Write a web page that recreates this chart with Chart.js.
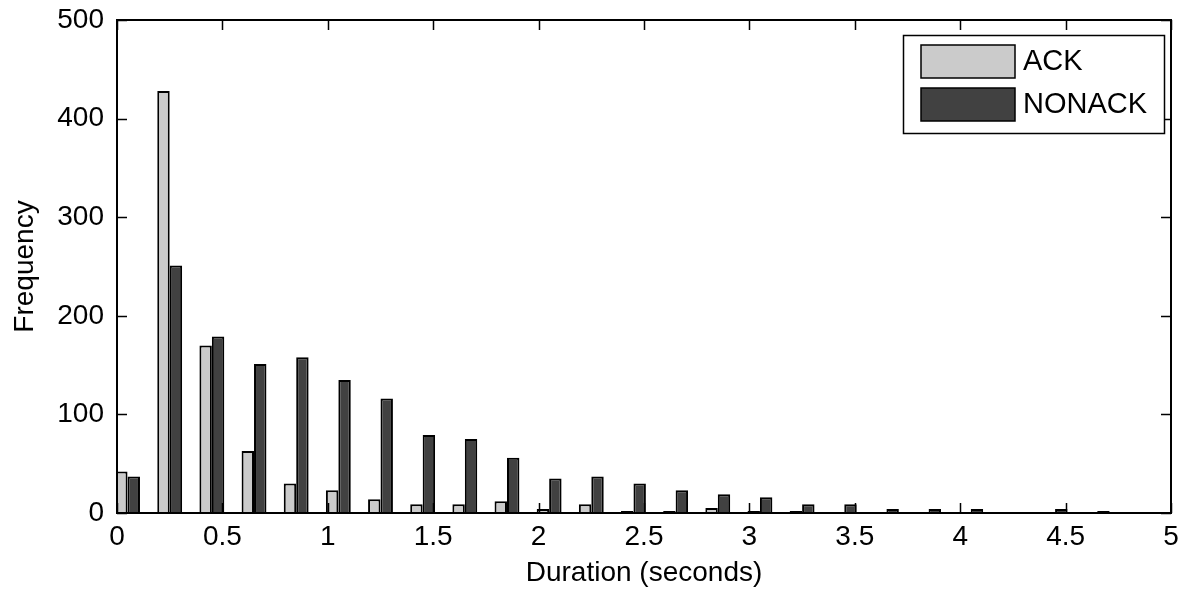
<!DOCTYPE html>
<html>
<head>
<meta charset="utf-8">
<script src="https://cdn.jsdelivr.net/npm/chart.js@4/dist/chart.umd.min.js"></script>
<style>
  body { margin: 0; background: #fff; }
  canvas { display: block; }
</style>
</head>
<body>
<canvas id="hist" width="1182" height="594"></canvas>
<script>
// bin centres (seconds) and counts
const binCenters = [0.05, 0.25, 0.45, 0.65, 0.85, 1.05, 1.25, 1.45, 1.65, 1.85, 2.05, 2.25, 2.45,
                    2.65, 2.85, 3.05, 3.25, 3.45, 3.65, 3.85, 4.05, 4.25, 4.45, 4.65, 4.85];
const ackCounts    = [42, 428, 170, 63, 30, 23, 14, 9, 9, 12, 4, 9, 2, 2, 5, 2, 2, 0, 0, 0, 1, 0, 0, 0, 0];
const nonackCounts = [37, 251, 179, 151, 158, 135, 116, 79, 75, 56, 35, 37, 30, 23, 19, 16, 9, 9, 4, 4, 4, 0, 4, 2, 0];
const seriesNames  = ["ACK", "NONACK"];
const xTicks = [0, 0.5, 1, 1.5, 2, 2.5, 3, 3.5, 4, 4.5, 5];
const yTicks = [0, 100, 200, 300, 400, 500];

const FONT = "'Liberation Sans', Arial, sans-serif";

// ── MATLAB-style box, inward ticks and legend ─────────────
const matlabBox = {
  id: "matlabBox",
  afterDatasetsDraw(chart) {
    const { ctx, chartArea: a, scales: { x, y } } = chart;
    ctx.save();
    ctx.strokeStyle = "#000";
    ctx.lineWidth = 1.5;
    ctx.beginPath();
    xTicks.forEach(v => {
      const px = Math.round(x.getPixelForValue(v)) + 0.5;
      ctx.moveTo(px, a.bottom); ctx.lineTo(px, a.bottom - 10);
      ctx.moveTo(px, a.top);    ctx.lineTo(px, a.top + 10);
    });
    yTicks.forEach(v => {
      const py = Math.round(y.getPixelForValue(v)) + 0.5;
      ctx.moveTo(a.left, py);  ctx.lineTo(a.left + 10, py);
      ctx.moveTo(a.right, py); ctx.lineTo(a.right - 10, py);
    });
    ctx.stroke();
    ctx.lineWidth = 2;
    ctx.strokeRect(a.left, a.top, a.right - a.left, a.bottom - a.top);

    // legend
    const lx = a.right - 268, ly = a.top + 15, lw = 261, lh = 98;
    ctx.fillStyle = "#fff";
    ctx.fillRect(lx, ly, lw, lh);
    ctx.lineWidth = 1.5;
    ctx.strokeRect(lx + 0.5, ly + 0.5, lw, lh);
    ctx.font = `29px ${FONT}`;
    ctx.textBaseline = "middle";
    chart.data.datasets.forEach((ds, i) => {
      const ry = ly + 10 + i * 43;
      ctx.fillStyle = ds.backgroundColor;
      ctx.fillRect(lx + 18, ry, 94, 33);
      ctx.strokeStyle = "#000";
      ctx.strokeRect(lx + 18, ry, 94, 33);
      ctx.fillStyle = "#000";
      ctx.fillText(ds.label, lx + 120, ry + 17);
    });
    ctx.restore();
  }
};

new Chart(document.getElementById("hist"), {
  type: "bar",
  data: {
    datasets: [
      {
        label: seriesNames[0],
        data: binCenters.map((c, i) => ({ x: c, y: ackCounts[i] })),
        backgroundColor: "#cbcbcb",
        borderColor: "#000",
        borderWidth: 2,
      },
      {
        label: seriesNames[1],
        data: binCenters.map((c, i) => ({ x: c, y: nonackCounts[i] })),
        backgroundColor: "#414141",
        borderColor: "#000",
        borderWidth: 2,
      },
    ],
  },
  options: {
    responsive: false,
    animation: false,
    categoryPercentage: 0.59,
    barPercentage: 1,
    layout: { padding: { top: 20, right: 11, left: 0, bottom: 0 } },
    plugins: { legend: { display: false }, tooltip: { enabled: false } },
    scales: {
      x: {
        type: "linear",
        offset: false,
        min: 0, max: 5,
        afterFit: s => { s.height = 81; s.paddingLeft = 0; s.paddingRight = 0; },
        afterBuildTicks: s => { s.ticks = xTicks.map(v => ({ value: v })); },
        ticks: { color: "#000", font: { family: FONT, size: 28 }, padding: 7, autoSkip: false, maxRotation: 0,
                 callback: v => String(v) },
        grid: { display: false, drawTicks: false },
        border: { display: false },
        title: { display: true, text: "Duration (seconds)", color: "#000", font: { family: FONT, size: 28 }, padding: { bottom: 4, top: 0 } },
      },
      y: {
        min: 0, max: 500,
        afterFit: s => { s.width = 117; s.paddingTop = 0; s.paddingBottom = 0; },
        afterBuildTicks: s => { s.ticks = yTicks.map(v => ({ value: v })); },
        ticks: { color: "#000", font: { family: FONT, size: 28 }, padding: 13, callback: v => String(v) },
        grid: { display: false, drawTicks: false },
        border: { display: false },
        title: { display: true, text: "Frequency", color: "#000", font: { family: FONT, size: 28 }, padding: { top: 8, bottom: 0 } },
      },
    },
  },
  plugins: [matlabBox],
});
</script>
</body>
</html>
